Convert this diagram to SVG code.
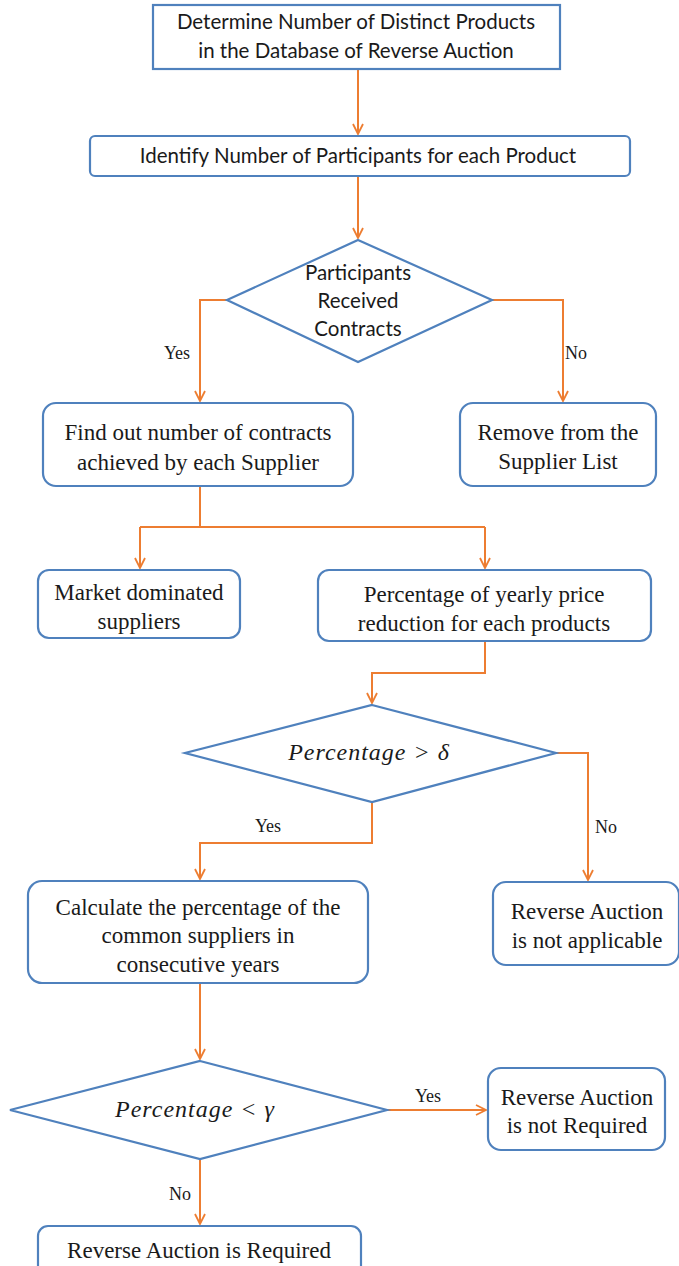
<svg xmlns="http://www.w3.org/2000/svg" width="679" height="1266" viewBox="0 0 679 1266">
<defs>
<marker id="arr" viewBox="0 0 12 12" refX="11" refY="6" markerWidth="12" markerHeight="12" markerUnits="userSpaceOnUse" orient="auto">
<path d="M1,1 L11,6 L1,11" fill="none" stroke="#ED7D31" stroke-width="1.8"/>
</marker>
<style>
.box{fill:#fff;stroke:#4F81BD;stroke-width:2.2}
.ln{fill:none;stroke:#ED7D31;stroke-width:2}
.sans{font-family:Lato,"Open Sans",sans-serif;font-size:20.5px;fill:#1a1a1a;text-anchor:middle}
.serif{font-family:"Liberation Serif",serif;font-size:23px;fill:#1a1a1a;text-anchor:middle}
.math{font-family:"Liberation Serif",serif;font-style:italic;font-size:24px;fill:#1a1a1a;text-anchor:middle;letter-spacing:1px}
.lbl{font-family:"Liberation Serif",serif;font-size:18px;fill:#1a1a1a;text-anchor:middle}
</style>
</defs>
<rect width="679" height="1266" fill="#fff"/>
<g id="connectors">
<path class="ln" d="M358,69 V134" marker-end="url(#arr)"/>
<path class="ln" d="M358,176 V238" marker-end="url(#arr)"/>
<path class="ln" d="M227,300 H200 V401" marker-end="url(#arr)"/>
<path class="ln" d="M492,300 H563 V401" marker-end="url(#arr)"/>
<path class="ln" d="M200,486 V527"/>
<path class="ln" d="M140,527 H485"/>
<path class="ln" d="M140,527 V568" marker-end="url(#arr)"/>
<path class="ln" d="M485,527 V568" marker-end="url(#arr)"/>
<path class="ln" d="M485,641 V673 H372 V703" marker-end="url(#arr)"/>
<path class="ln" d="M556,753 H588 V880" marker-end="url(#arr)"/>
<path class="ln" d="M372,802 V843 H200 V879" marker-end="url(#arr)"/>
<path class="ln" d="M200,983 V1059" marker-end="url(#arr)"/>
<path class="ln" d="M387,1110 H486" marker-end="url(#arr)"/>
<path class="ln" d="M200,1159 V1224" marker-end="url(#arr)"/>
<text class="lbl" x="177" y="359">Yes</text>
<text class="lbl" x="576" y="359">No</text>
<text class="lbl" x="268" y="832">Yes</text>
<text class="lbl" x="606" y="833">No</text>
<text class="lbl" x="428" y="1102">Yes</text>
<text class="lbl" x="180" y="1200">No</text>
</g>
<g id="n1">
<rect class="box" x="153" y="5" width="407" height="64"/>
<text class="sans" x="356" y="29">Determine Number of Distinct Products</text>
<text class="sans" x="356" y="58">in the Database of Reverse Auction</text>
</g>
<g id="n2">
<rect class="box" x="90" y="136" width="540" height="40" rx="5"/>
<text class="sans" x="358" y="163">Identify Number of Participants for each Product</text>
</g>
<g id="d1">
<polygon class="box" points="358,240 492,300 358,362 227,300"/>
<text class="sans" x="358" y="280">Participants</text>
<text class="sans" x="358" y="308">Received</text>
<text class="sans" x="358" y="336">Contracts</text>
</g>
<g id="n3">
<rect class="box" x="43" y="403" width="310" height="83" rx="13"/>
<text class="serif" x="198" y="440">Find out number of contracts</text>
<text class="serif" x="198" y="470">achieved by each Supplier</text>
</g>
<g id="n4">
<rect class="box" x="460" y="403" width="196" height="83" rx="13"/>
<text class="serif" x="558" y="440">Remove from the</text>
<text class="serif" x="558" y="469">Supplier List</text>
</g>
<g id="n5">
<rect class="box" x="38" y="570" width="202" height="68" rx="11"/>
<text class="serif" x="139" y="600">Market dominated</text>
<text class="serif" x="139" y="629">suppliers</text>
</g>
<g id="n6">
<rect class="box" x="318" y="570" width="333" height="71" rx="11"/>
<text class="serif" x="484" y="602">Percentage of yearly price</text>
<text class="serif" x="484" y="631">reduction for each products</text>
</g>
<g id="d2">
<polygon class="box" points="372,705 556,753 372,802 185,753"/>
<text class="math" x="369" y="760">Percentage &gt; δ</text>
</g>
<g id="n7">
<rect class="box" x="28" y="881" width="340" height="102" rx="14"/>
<text class="serif" x="198" y="915">Calculate the percentage of the</text>
<text class="serif" x="198" y="943">common suppliers in</text>
<text class="serif" x="198" y="972">consecutive years</text>
</g>
<g id="n8">
<rect class="box" x="493" y="882" width="186" height="83" rx="13"/>
<text class="serif" x="587" y="919">Reverse Auction</text>
<text class="serif" x="587" y="948">is not applicable</text>
</g>
<g id="d3">
<polygon class="box" points="200,1061 387,1110 200,1159 10,1110"/>
<text class="math" x="195" y="1117">Percentage &lt; γ</text>
</g>
<g id="n9">
<rect class="box" x="488" y="1068" width="177" height="82" rx="13"/>
<text class="serif" x="577" y="1105">Reverse Auction</text>
<text class="serif" x="577" y="1133">is not Required</text>
</g>
<g id="n10">
<rect class="box" x="38" y="1226" width="323" height="50" rx="10"/>
<text class="serif" x="199" y="1258">Reverse Auction is Required</text>
</g>
</svg>
